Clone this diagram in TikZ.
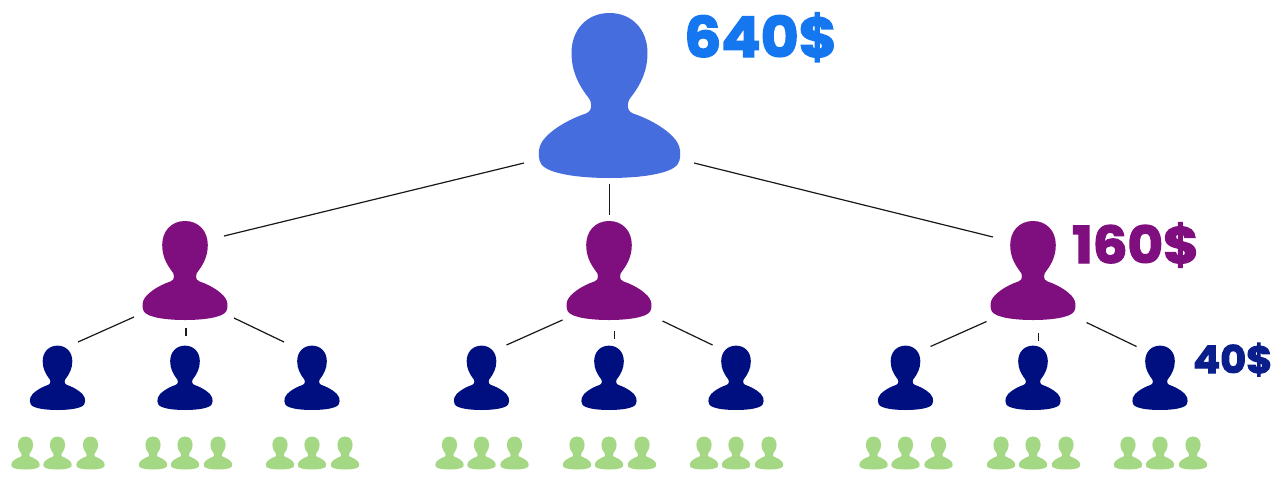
\documentclass[tikz,border=0pt]{standalone}
\usepackage{fontspec}
\setmainfont{Poppins}[FakeBold=2.6]
\definecolor{rootblue}{HTML}{456DDE}
\definecolor{rootlabel}{HTML}{1477F0}
\definecolor{midpurple}{HTML}{7F0F7E}
\definecolor{navyperson}{HTML}{000F80}
\definecolor{navylabel}{HTML}{0A1E8C}
\definecolor{leafgreen}{HTML}{A5D884}
\tikzset{
  link/.style={draw=black!90,line width=1.2pt},
  money/.style={anchor=base west,inner sep=0pt,font=\bfseries},
}
% name, x of centre, y of bottom, unit, colour
\newcommand\personfig[5]{%
  \fill[#5,shift={(#2,#3)},x=#4pt,y=#4pt]
    (0,495) .. controls (68,495) and (114,445) .. (114,375)
    .. controls (114,320) and (92,280) .. (70,250)
    .. controls (60,238) and (55,230) .. (55,218)
    .. controls (55,205) and (60,198) .. (72,193)
    .. controls (135,172) and (198,130) .. (209,95)
    .. controls (214,80) and (214,55) .. (205,42)
    .. controls (185,12) and (90,0) .. (0,0)
    .. controls (-90,0) and (-185,12) .. (-205,42)
    .. controls (-214,55) and (-214,80) .. (-209,95)
    .. controls (-198,130) and (-135,172) .. (-72,193)
    .. controls (-60,198) and (-55,205) .. (-55,218)
    .. controls (-55,230) and (-60,238) .. (-70,250)
    .. controls (-92,280) and (-114,320) .. (-114,375)
    .. controls (-114,445) and (-68,495) .. (0,495) -- cycle;
  \coordinate (#1) at (#2,#3);%
}
\begin{document}
\begin{tikzpicture}[x=1pt,y=-1pt]
\useasboundingbox[fill=white] (0,0) rectangle (1280,480);
\personfig{root}{609.5}{178}{0.3333}{rootblue}
\foreach \g/\x in {a/185,b/609,c/1033}{
  \personfig{\g}{\x}{320}{0.2}{midpurple}
  \foreach \k/\d in {1/-127.5,2/0,3/127}{
    \pgfmathsetmacro\nx{\x+\d}
    \personfig{\g\k}{\nx}{410}{0.13}{navyperson}
    \foreach \j/\e in {1/-32,2/0,3/33}{
      \pgfmathsetmacro\lx{\nx+\e}
      \personfig{\g\k\j}{\lx}{469.5}{0.0665}{leafgreen}
    }
  }
}
\node[money,text=rootlabel,font=\bfseries\fontsize{56}{56}\selectfont,xscale=1.04] (t1) at (684,57) {640\$};
\node[money,text=midpurple,font=\bfseries\fontsize{51}{51}\selectfont,xscale=1.07] (t2) at (1072,263) {160\$};
\node[money,text=navylabel,font=\bfseries\fontsize{38}{38}\selectfont,xscale=1.05] (t3) at (1193,373) {40\$};
% connector ends
\coordinate (r1) at (524,163); \coordinate (e1) at (224,236);
\coordinate (r2) at (609.5,184); \coordinate (e2) at (609.5,215);
\coordinate (r3) at (694,163); \coordinate (e3) at (993,237);
\draw[link] (r1) -- (e1);
\draw[link] (r2) -- (e2);
\draw[link] (r3) -- (e3);
\foreach \g/\x/\y in {a/0/0,b/428.5/3,c/852.5/4.5}{
  \coordinate (\g s1) at (134+\x,317+\y); \coordinate (\g d1) at (78+\x,342+\y);
  \coordinate (\g s2) at (186+\x,328+\y); \coordinate (\g d2) at (186+\x,336+\y);
  \coordinate (\g s3) at (234+\x,318+\y); \coordinate (\g d3) at (284+\x,342+\y);
  \draw[link] (\g s1) -- (\g d1);
  \draw[link] (\g s2) -- (\g d2);
  \draw[link] (\g s3) -- (\g d3);
}
\end{tikzpicture}
\end{document}
